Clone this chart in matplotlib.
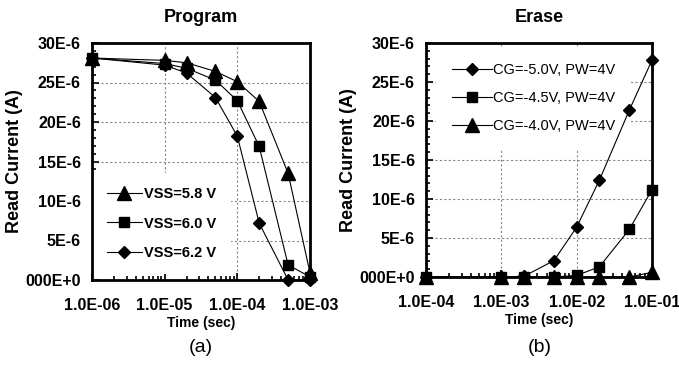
import matplotlib
matplotlib.use("Agg")
import matplotlib.pyplot as plt
from matplotlib.ticker import FixedLocator, FixedFormatter, MultipleLocator, LogLocator, NullFormatter

plt.rcParams['font.family'] = ['Liberation Sans', 'DejaVu Sans']
plt.rcParams['font.weight'] = 'bold'

# ---- data (read current in uA) ----
prog_time = [1e-6, 1e-5, 2e-5, 5e-5, 1e-4, 2e-4, 5e-4, 1e-3]
vss58 = [28.1, 27.8, 27.5, 26.4, 25.1, 22.6, 13.5, 0.9]
vss60 = [28.1, 27.4, 26.8, 25.3, 22.7, 16.9, 1.9, 0.4]
vss62 = [28.1, 27.2, 26.2, 23.1, 18.2, 7.2, 0.0, 0.0]
prog_labels = ['VSS=5.8 V', 'VSS=6.0 V', 'VSS=6.2 V']

erase_time = [1e-4, 1e-3, 2e-3, 5e-3, 1e-2, 2e-2, 5e-2, 1e-1]
cg50 = [0.0, 0.0, 0.1, 2.1, 6.4, 12.4, 21.4, 27.8]
cg45 = [0.0, 0.0, 0.0, 0.0, 0.2, 1.3, 6.1, 11.2]
cg40 = [0.0, 0.0, 0.0, 0.0, 0.0, 0.0, 0.0, 0.6]
erase_labels = ['CG=-5.0V, PW=4V', 'CG=-4.5V, PW=4V', 'CG=-4.0V, PW=4V']

y_ticks = [0, 5, 10, 15, 20, 25, 30]
y_ticklabels = ['000E+0', '5E-6', '10E-6', '15E-6', '20E-6', '25E-6', '30E-6']
prog_xticks = [1e-6, 1e-5, 1e-4, 1e-3]
prog_xticklabels = ['1.0E-06', '1.0E-05', '1.0E-04', '1.0E-03']
erase_xticks = [1e-4, 1e-3, 1e-2, 1e-1]
erase_xticklabels = ['1.0E-04', '1.0E-03', '1.0E-02', '1.0E-01']

W, H = 679, 365
fig = plt.figure(figsize=(W / 100, H / 100), dpi=100)


def px_axes(l, r, t, b):
    return fig.add_axes([l / W, 1 - b / H, (r - l) / W, (b - t) / H])


def style_axes(ax, xticks, xlabels, title):
    ax.set_xscale('log')
    ax.set_xlim(xticks[0], xticks[-1])
    ax.set_ylim(0, 30e-6)
    ax.xaxis.set_major_locator(FixedLocator(xticks))
    ax.xaxis.set_major_formatter(FixedFormatter(xlabels))
    ax.xaxis.set_minor_locator(LogLocator(base=10, subs=range(2, 10)))
    ax.xaxis.set_minor_formatter(NullFormatter())
    ax.yaxis.set_major_locator(FixedLocator([v * 1e-6 for v in y_ticks]))
    ax.yaxis.set_major_formatter(FixedFormatter(y_ticklabels))
    ax.yaxis.set_minor_locator(MultipleLocator(1e-6))
    ax.tick_params(which='both', direction='in', top=False, right=False, width=1.2)
    ax.tick_params(which='major', length=5, labelsize=11.5)
    ax.tick_params(which='minor', length=3)
    ax.tick_params(axis='x', which='major', pad=13)
    ax.tick_params(axis='y', which='major', pad=8)
    for sp in ax.spines.values():
        sp.set_linewidth(2)
    ax.grid(True, which='major', color='#888888', linestyle=(0, (2, 2)), linewidth=0.8)
    ax.set_axisbelow(True)
    ax.set_title(title, fontsize=13, fontweight='bold', pad=15)
    ax.set_xlabel('Time (sec)', fontsize=10, fontweight='bold', labelpad=2)
    ax.set_ylabel('Read Current (A)', fontsize=13, fontweight='bold', labelpad=2)


line_kw = dict(color='black', linewidth=0.8, markerfacecolor='black',
               markeredgecolor='black', clip_on=False)

# ---- (a) Program ----
ax1 = px_axes(92, 310, 43, 280)
ax1.plot(prog_time, [v * 1e-6 for v in vss58], marker='^', markersize=10, label=prog_labels[0], **line_kw)
ax1.plot(prog_time, [v * 1e-6 for v in vss60], marker='s', markersize=7, label=prog_labels[1], **line_kw)
ax1.plot(prog_time, [v * 1e-6 for v in vss62], marker='D', markersize=6.5, label=prog_labels[2], **line_kw)
style_axes(ax1, prog_xticks, prog_xticklabels, 'Program')
leg1 = ax1.legend(loc='upper left', bbox_to_anchor=(0.0, 0.453), borderaxespad=0,
                  prop={'weight': 'bold', 'size': 10.5}, handlelength=2.4,
                  handletextpad=0.2, labelspacing=1.05, borderpad=1.0,
                  numpoints=1, frameon=True, fancybox=False, framealpha=1)
leg1.get_frame().set_edgecolor('none')
leg1.set_zorder(1.5)

# ---- (b) Erase ----
ax2 = px_axes(426, 652, 43, 277)
ax2.plot(erase_time, [v * 1e-6 for v in cg50], marker='D', markersize=6.5, label=erase_labels[0], **line_kw)
ax2.plot(erase_time, [v * 1e-6 for v in cg45], marker='s', markersize=7, label=erase_labels[1], **line_kw)
ax2.plot(erase_time, [v * 1e-6 for v in cg40], marker='^', markersize=10, label=erase_labels[2], **line_kw)
style_axes(ax2, erase_xticks, erase_xticklabels, 'Erase')
leg2 = ax2.legend(loc='upper left', bbox_to_anchor=(0.045, 0.983), borderaxespad=0,
                  prop={'weight': 'normal', 'size': 10.5}, handlelength=2.7,
                  handletextpad=0.1, labelspacing=0.95, borderpad=1.1,
                  numpoints=1, frameon=True, fancybox=False, framealpha=1)
leg2.get_frame().set_edgecolor('none')
leg2.set_zorder(1.5)

fig.text(201 / W, 1 - 348 / H, '(a)', ha='center', va='center', fontsize=14, fontweight='normal')
fig.text(540 / W, 1 - 348 / H, '(b)', ha='center', va='center', fontsize=14, fontweight='normal')

fig.savefig('out.png', dpi=100, facecolor='white')
